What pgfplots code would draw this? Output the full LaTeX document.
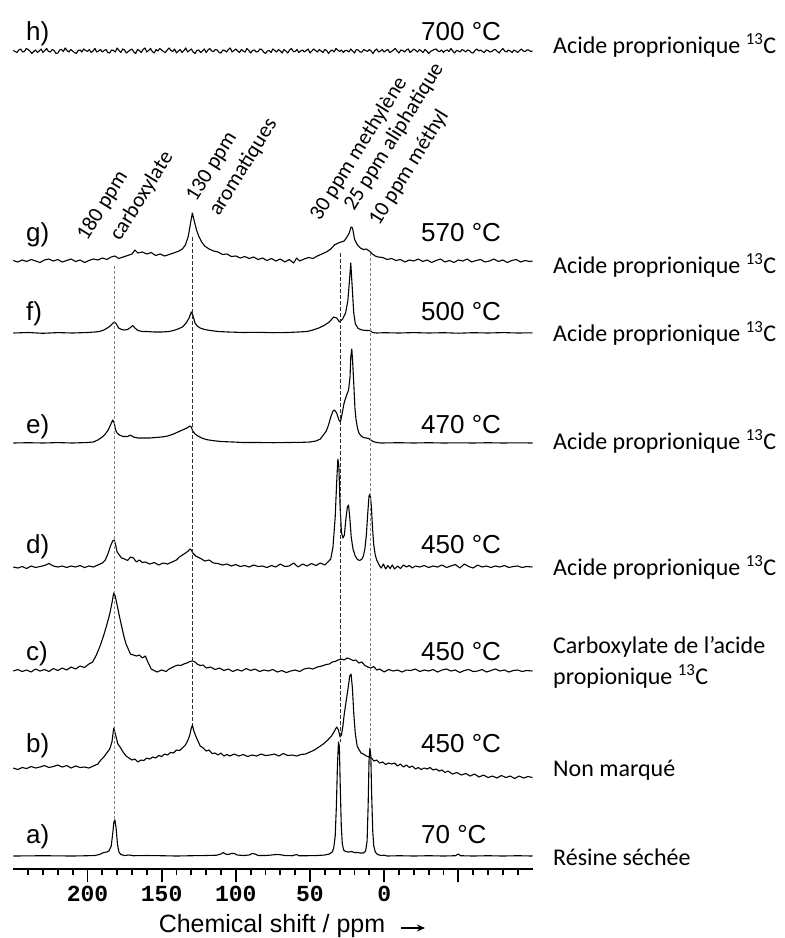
\documentclass[border=0pt]{standalone}
\usepackage{fontspec}
\setmainfont{Liberation Sans}
\newfontfamily\calfont{Carlito}
\newfontfamily\monofont{Liberation Mono}
\usepackage{pgfplots}
\pgfplotsset{compat=1.18}
\usetikzlibrary{arrows.meta}

\tikzset{
  spec/.style={black, line width=1.1bp, line join=round, mark=none},
  panel/.style={anchor=base west, inner sep=0pt, font=\fontsize{26bp}{30bp}\selectfont},
  side/.style={anchor=west, inner sep=0pt, align=left, font=\calfont\fontsize{24bp}{31bp}\selectfont},
  peak/.style={anchor=base west, inner sep=0pt, rotate=58, font=\calfont\fontsize{21.5bp}{26bp}\selectfont},
}

\begin{document}
\begin{tikzpicture}[x=1bp,y=1bp]
\useasboundingbox (0,0) rectangle (785,-938);
\begin{axis}[
  at={(13.3bp,-869bp)}, anchor=south west,
  scale only axis, width=519.2bp, height=869bp,
  xmin=-100, xmax=250, x dir=reverse,
  ymin=-869, ymax=0,
  clip=false,
  axis x line=bottom, axis y line=none,
  x axis line style={line width=2.6bp, -},
  xtick={200,150,100,50,0,-50},
  xticklabels={200,150,100,50,0,{}},
  minor xtick={-90,-80,...,240},
  tick align=outside,
  major tick length=13bp, minor tick length=6bp,
  every tick/.style={black, line width=1.8bp},
  /pgf/number format/assume math mode=true,
  xticklabel style={font=\monofont\bfseries\fontsize{23bp}{23bp}\selectfont, yshift=-1bp},
]
% h) 700 C
\addplot[spec, y filter/.expression={y-51}] coordinates {
(250,0.5)(248.75,-0.5)(247.5,-1.5)(246.25,1)(245,2)(243.75,-1)(242.5,-0.5)(241.25,2.5)(240,1.5)(238.75,0)(237.5,-2.5)(236.25,-0.5)(235,1)(233.75,-1.5)(232.5,0)(231.25,2)(230,-1.5)(228.75,0.5)(227.5,2.5)(226.25,-0.5)(225,-1)(223.75,1.5)(222.5,0.5)(221.25,-2.5)(220,-2)(218.75,1)(217.5,1.5)(216.25,-0.5)(215,3)(213.75,0.5)(212.5,-1)(211.25,1.5)(210,0)(208.75,-1.5)(207.5,-2.5)(206.25,0.5)(205,1)(203.75,-1)(202.5,2)(201.25,0.5)(200,-0.5)(198.75,1.5)(197.5,-1.5)(196.25,0)(195,2.5)(193.75,-1)(192.5,0)(191.25,1.5)(190,-1)(188.75,0.5)(187.5,1.5)(186.25,-1.5)(185,-2)(183.75,1)(182.5,0.5)(181.25,-1)(180,3)(178.75,0.5)(177.5,-1.5)(176.25,2)(175,1)(173.75,-2)(172.5,-0.5)(171.25,1)(170,2)(168.75,-1)(167.5,-2.5)(166.25,1.5)(165,0.5)(163.75,-1.5)(162.5,1.5)(161.25,3)(160,-1)(158.75,0.5)(157.5,2.5)(156.25,-0.5)(155,-2)(153.75,1.5)(152.5,0)(151.25,2.5)(150,1)(148.75,-0.5)(147.5,-1.5)(146.25,1)(145,3)(143.75,0.5)(142.5,-0.5)(141.25,2)(140,-2)(138.75,0)(137.5,1.5)(136.25,-1.5)(135,0.5)(133.75,3)(132.5,-1)(131.25,0.5)(130,2)(128.75,-1)(127.5,-2.5)(126.25,0.5)(125,1)(123.75,-1.5)(122.5,0)(121.25,2)(120,-1.5)(118.75,1)(117.5,2.5)(116.25,0)(115,-0.5)(113.75,1.5)(112.5,1)(111.25,-1.5)(110,-2)(108.75,1)(107.5,0.5)(106.25,-1)(105,1.5)(103.75,3)(102.5,-1)(101.25,0.5)(100,2)(98.75,0)(97.5,-1.5)(96.25,1.5)(95,0)(93.75,-1)(92.5,2.5)(91.25,0.5)(90,-2)(88.75,0.5)(87.5,1)(86.25,-1)(85,-0.5)(83.75,2)(82.5,1.5)(81.25,-1)(80,-2.5)(78.75,0)(77.5,0.5)(76.25,-1.5)(75,2)(73.75,0.5)(72.5,-1)(71.25,1.5)(70,0)(68.75,-2)(67.5,1.5)(66.25,0)(65,-2)(63.75,1)(62.5,2.5)(61.25,-0.5)(60,-0.5)(58.75,1.5)(57.5,-1.5)(56.25,0)(55,1)(53.75,-1)(52.5,0.5)(51.25,2)(50,-2)(48.75,0)(47.5,2)(46.25,0.5)(45,-1)(43.75,1.5)(42.5,0)(41.25,-1.5)(40,1.5)(38.75,0.5)(37.5,-2.5)(36.25,0)(35,1)(33.75,-1)(32.5,2.5)(31.25,1)(30,-0.5)(28.75,1)(27.5,-1.5)(26.25,0.5)(25,0.5)(23.75,-1)(22.5,2)(21.25,0)(20,-2)(18.75,1.5)(17.5,1)(16.25,-1)(15,-1)(13.75,1.5)(12.5,0.5)(11.25,-0.5)(10,1.5)(8.75,0)(7.5,-2.5)(6.25,0.5)(5,2)(3.75,-1)(2.5,0)(1.25,1.5)(0,-1)(-1.25,0.5)(-2.5,1.5)(-3.75,-1.5)(-5,-0.5)(-6.25,1)(-7.5,2.5)(-8.75,0)(-10,-2)(-11.25,1)(-12.5,0.5)(-13.75,-1)(-15,1)(-16.25,2)(-17.5,-1.5)(-18.75,0)(-20,2)(-21.25,0.5)(-22.5,-1)(-23.75,1.5)(-25,0)(-26.25,-1.5)(-27.5,1.5)(-28.75,0)(-30,-2.5)(-31.25,-0.5)(-32.5,0.5)(-33.75,1.5)(-35,2)(-36.25,0)(-37.5,-0.5)(-38.75,1)(-40,-1.5)(-41.25,0.5)(-42.5,1)(-43.75,-0.5)(-45,2.5)(-46.25,0)(-47.5,-2)(-48.75,0.5)(-50,0)(-51.25,-1)(-52.5,1.5)(-53.75,0.5)(-55,-1)(-56.25,1)(-57.5,0.5)(-58.75,-1.5)(-60,-2)(-61.25,0.5)(-62.5,2)(-63.75,0)(-65,1)(-66.25,-0.5)(-67.5,-1.5)(-68.75,1)(-70,0.5)(-71.25,-1)(-72.5,-0.5)(-73.75,1)(-75,1.5)(-76.25,-0.5)(-77.5,-2)(-78.75,0.5)(-80,2.5)(-81.25,0)(-82.5,-1)(-83.75,1)(-85,0)(-86.25,-1.5)(-87.5,1)(-88.75,0)(-90,-1.5)(-91.25,0.5)(-92.5,2)(-93.75,0)(-95,-0.5)(-96.25,1)(-97.5,1)(-98.75,-0.5)(-100,0)
};
% g) 570 C
\addplot[spec, y filter/.expression={y-261}] coordinates {
(250,0.5)(247,-1)(244,1)(241,-0.5)(238,1.5)(235,0)(232,-1.5)(229,1)(226,2)(223,0)(220,1.5)(217,-1)(214,0.5)(211,2)(208,-0.5)(205,1)(202,-1.5)(199,0.5)(196,2)(193,1)(190,3)(187,1.5)(184,4)(181.5,5)(179,2.5)(176,4)(173,5.5)(170,7)(168,11)(166,8)(163,9)(160,7)(157,8.5)(154,5.5)(151,7)(148,5)(145,6.5)(142,8)(139,9.5)(136,12)(134,16)(132,25)(130.5,38)(129.3,48)(128,40)(126.5,31)(125,25)(123,19)(121,15)(118,12)(115,10)(112,9)(109,6.5)(106,7)(103,4.5)(100,5)(97,3)(94,4.5)(91,2.5)(88,4)(85,1.5)(82,3)(79,0.5)(76,2.5)(73,0)(70,2)(67,-1)(64,1.5)(61,-2)(59,3)(57,0)(54,2)(51,3.5)(48,2.5)(45,5)(42,7)(39,9)(36,12)(33.5,16)(31,18)(29,19)(27,20)(25.5,23)(23.5,28)(22.3,34)(21.3,33)(20,22)(18,16)(16,13)(14,11.5)(12,12)(10,10)(8,7)(6,5)(4,4)(1,3.5)(-2,1.5)(-5,2.5)(-8,0.5)(-11,1.5)(-14,-1)(-17,1)(-20,0)(-23,2)(-26,-0.5)(-29,1)(-32,-1.5)(-35,0.5)(-38,2)(-41,-1)(-44,0.5)(-47,-1.5)(-50,1)(-53,0)(-56,2)(-59,-1)(-62,0.5)(-65,1.5)(-68,-1)(-71,0)(-74,2)(-77,-0.5)(-80,1)(-83,-1.5)(-86,0.5)(-89,1.5)(-92,-1)(-95,0.5)(-98,-0.5)(-100,0)
};
% f) 500 C
\addplot[spec, y filter/.expression={y-333}] coordinates {
(250,0)(240,0.5)(230,-0.3)(220,0.4)(210,0)(200,0.5)(195,1)(192,1.5)(189,3)(186,5.5)(184,8)(182,11)(180.5,9)(179,5)(177,3.5)(175,3)(173,3.5)(171,5.5)(169.5,7.5)(168,5)(166,2.5)(163,1.5)(160,1.5)(155,1)(150,1)(145,1.5)(142,2.5)(139,4)(136,6)(133.5,10)(131.5,15)(130,21)(129,18)(127.5,10)(126,7)(124,5)(121,3.5)(117,2.5)(112,1.5)(105,1)(95,0.5)(85,0.7)(75,0.3)(65,0.5)(58,1)(52,1.5)(48,3)(44,5)(40,8)(37,11)(34,16)(32,15)(30,11)(28,14)(26,20)(24.5,32)(23.5,50)(22.5,70)(21.5,45)(20.5,20)(19.4,9)(17.5,4.5)(15,3)(12,2.5)(10,2.5)(9,2)(8,0.5)(5,0)(0,0.3)(-10,0)(-20,0.4)(-30,0)(-40,0.3)(-50,-0.2)(-60,0.3)(-70,0)(-80,0.4)(-90,0)(-100,0.2)
};
% e) 470 C
\addplot[spec, y filter/.expression={y-443}] coordinates {
(250,0)(240,0.3)(230,0)(220,0.4)(210,0)(200,0.5)(196,1)(193,3)(190,6)(188,9)(186,13)(184.5,18)(183,23)(182,20)(181,13)(180,10)(178.5,8)(176,6.5)(173,6.5)(171,8)(169,6)(166,5)(162,5)(158,5)(154,5.5)(150,6)(146,7)(142,9)(139,11)(136,13)(133,15)(131,17)(130,16)(129,12)(127.5,9)(125.5,7)(123,5)(120,3.5)(116,2.5)(110,1.5)(102,1)(95,0.5)(85,0.5)(75,0.3)(65,0.5)(55,0.7)(50,1)(46,2)(43,4)(41,8)(39,12)(37.5,18)(36,26)(34.5,32)(33.5,33)(32,30)(30.5,23)(29.5,21)(28.5,28)(27,40)(25.5,47)(24,53)(23,66)(22.5,86)(21.8,94)(21.2,80)(20.5,60)(19.7,35)(19,24)(18,15)(17,10)(15.5,7)(14,5.5)(12,5)(10.5,4.5)(9,3)(7.5,1.5)(5,0.5)(2,0)(-10,0.3)(-20,0)(-30,0.3)(-40,0)(-50,0.2)(-60,0)(-70,0.3)(-80,0)(-90,0.2)(-100,0)
};
% d) 450 C
\addplot[spec, y filter/.expression={y-567}] coordinates {
(250,0)(247,-1)(244,0.5)(241,-1.5)(238,1)(235,-0.5)(232,0.5)(229,1.5)(226,3.5)(223,1)(220,0)(217,1)(214,-0.5)(211,1)(208,0)(205,1.5)(202,-0.5)(199,1)(196,0)(193,2)(190,4)(188,7)(186,14)(184.5,21)(183,26)(182,27)(181,22)(180,15)(178.5,12)(177,9)(175,8)(173,6.5)(171,10)(169,9)(167,5)(165,7)(163,4.5)(161,5)(158,3)(155,4.5)(152,2)(149,4)(146,3)(143,5)(140,7)(138,10)(136,12)(134,14)(132,16)(131,18)(130,17)(129,14)(127,11)(125,9.5)(123,8)(121,6)(118,7)(115,4)(112,3.5)(109,2)(106,3)(103,1)(100,2.5)(97,0.5)(94,1.5)(91,0)(88,2)(85,0.5)(82,1)(79,-0.5)(76,1.5)(73,0)(70,3)(67,0.5)(64,1)(61,4)(58,0)(55,3)(52,1)(49,3.5)(46,1.5)(43,4)(40,2)(38,5)(36,8)(34.5,20)(33,50)(32,85)(31.2,108)(30.5,100)(29.7,60)(28.8,35)(27.8,29)(26.8,32)(25.8,48)(24.8,60)(24,62)(23.2,50)(22.2,30)(21,18)(19.5,11)(18,7.5)(16.5,6.5)(15,8)(14,11)(13,18)(12,32)(11,55)(10.2,71)(9.4,73)(8.6,60)(7.8,38)(7,22)(6,12)(5,7)(4,4)(3,1)(2,-1)(0.5,3)(-1,-2)(-2.5,1.5)(-4,-1.5)(-5.5,2)(-7,-2)(-9,1)(-11,-1.5)(-13,2)(-15,0)(-17,1.5)(-19,-1)(-21,1)(-24,0)(-27,1.5)(-30,-0.5)(-33,1)(-36,0)(-39,2)(-42,-0.5)(-45,1)(-48,2.5)(-51,-1)(-54,3)(-57,0.5)(-60,-1)(-63,2)(-66,0)(-69,1)(-72,-0.5)(-75,1)(-78,0)(-81,1.5)(-84,-0.5)(-87,0.5)(-90,1)(-93,-0.5)(-96,0.5)(-100,0)
};
% c) 450 C
\addplot[spec, y filter/.expression={y-671}] coordinates {
(250,0)(247,1.5)(244,-0.5)(241,1)(238,-1)(235,2)(232,0)(229,1.5)(226,-0.5)(223,2.5)(220,0.5)(217,3)(214,1)(211,4)(208,2)(205,5)(202,3.5)(199,7)(196.5,9)(194,16)(191.5,25)(189,36)(187,46)(185,57)(183.5,68)(182.3,78)(181.3,75)(180,66)(178.5,55)(177,45)(175.5,35)(174,27)(172.5,22)(171,17)(169,16)(167,15)(165,16)(163,13)(161,15)(159,8)(157,2)(155,0.5)(153,-1)(150,1)(147,-0.5)(145,2)(143,3.5)(141,5)(139,6)(137,5.5)(135,7)(133,8)(131,9.5)(129,10)(127.5,9)(126,7)(124,5.5)(122,6)(120,3)(117,4)(114,1.5)(111,3)(108,0.5)(105,2)(102,-0.5)(99,1.5)(96,0)(93,2.5)(90,0.5)(87,2)(84,-0.5)(81,1)(78,0)(75,1.5)(72,-1)(69,0.5)(66,-1.5)(63,0)(60,1)(57,-0.5)(54,2)(51,3)(48,2)(45,4)(42,5)(39,6.5)(37,7)(35,9)(33,9.5)(31,11)(29,12)(27,11)(25,13)(23,12)(21,10.5)(19,11)(17,8)(15,9)(13,5.5)(11,4)(9,3)(7,4.5)(5,1)(3,2)(0,-1)(-3,1.5)(-6,0)(-9,1)(-12,-1)(-15,1)(-18,0.5)(-21,2)(-24,-0.5)(-27,1)(-30,0)(-33,1.5)(-36,-1)(-39,1)(-42,2)(-45,0)(-48,1)(-51,-1.5)(-54,0.5)(-57,1.5)(-60,-0.5)(-63,0)(-66,1.5)(-69,-1)(-72,0.5)(-75,2)(-78,0)(-81,1)(-84,-1)(-87,0.5)(-90,1)(-93,-0.5)(-96,0.5)(-100,0)
};
% b) 450 C
\addplot[spec, y filter/.expression={y-768}] coordinates {
(250,0)(247,-1.5)(244,0.5)(241,-0.5)(238,1.5)(235,0)(232,1)(229,2.5)(226,0.5)(223,1.5)(220,3)(217,1)(214,2.5)(211,0)(208,2)(205,0.5)(202,1)(199,0)(196,2)(193,4)(191,8)(189,11)(187,15)(185,19)(183.5,26)(182.3,40)(181,33)(179.5,24)(178,21)(176,16)(174,12)(172,10)(170,8)(168,9)(166,6)(164,8)(162,7.5)(160,10)(158,9)(156,11)(154,10)(152,12.5)(150,11.5)(148,14)(146,13)(144,15.5)(142,15)(140,18)(138,17.5)(136,20)(134,23)(132.5,27)(131,33)(130,40)(129.2,43)(128.3,37)(127,32)(125.5,27)(124,22)(122,20)(120,17)(118,18)(116,14.5)(114,15)(112,13)(110,15)(108,12)(106,13.5)(104,12)(101,14)(98,12)(95,13.5)(92,11.5)(89,13)(86,12)(83,14)(80,12.5)(77,13)(74,14)(71,12)(68,14.5)(65,12.5)(62,13)(59,12)(56,13.5)(53,14)(50,16)(47,18)(44,21)(41,24)(38,28)(35.5,32)(33.5,37)(32,41)(30.8,38)(29.7,31)(28.8,33)(27.8,42)(26.8,55)(25.5,68)(24.3,80)(23.2,92)(22.3,94)(21.4,80)(20.5,55)(19.5,35)(18.2,22)(16.8,18)(15.5,15)(14,14)(12,12)(10,11)(8.5,10)(7,7)(5,8)(3,5)(1,6)(-1,3.5)(-3,5)(-5,4)(-7,5)(-9,2)(-11,4)(-13,1)(-15,3)(-17,0.5)(-19,2)(-21,-1)(-23,0.5)(-25,-1.5)(-27,0)(-29,-1)(-31,0.5)(-33,-2)(-35,-1)(-37,-3)(-39,-2)(-41,-4.5)(-43,-3)(-46,-6)(-49,-4.5)(-52,-7)(-55,-5.5)(-58,-8)(-61,-6)(-64,-9)(-67,-7)(-70,-9.5)(-73,-8)(-76,-10)(-79,-7.5)(-82,-9.5)(-85,-8)(-88,-10.5)(-91,-8)(-94,-10)(-97,-8.5)(-100,-9.5)
};
% a) 70 C
\addplot[spec, y filter/.expression={y-856}] coordinates {
(250,0)(230,0.3)(210,0)(200,0.3)(195,0.5)(192,1.5)(189,3.5)(187,4)(185.5,5)(184,10)(183,22)(182.2,34)(181.5,36)(180.7,28)(179.8,12)(178.8,4)(177.5,1.5)(175,0.5)(172,1)(169,0.3)(160,0.5)(150,0.3)(140,0)(130,0.3)(120,0.5)(113,0.8)(110,2)(108.5,3.5)(107,2)(105,1.5)(103,2.5)(101,2.5)(99,1)(95,0.5)(91,1)(89,2.5)(87,2)(85,0.5)(80,0.5)(76,1)(73,1.5)(70,1.3)(67,0.5)(62,0.3)(59,1.5)(57.5,0.3)(52,0.3)(45,0.5)(40,1)(37,2)(35,4)(34,8)(33,20)(32.2,50)(31.5,90)(30.8,114)(30.2,110)(29.6,70)(28.9,30)(28.2,12)(27.3,6)(26,4.5)(24,4)(22,4.5)(20,3.5)(18,3.5)(16,3)(14,3)(12.5,5)(11.5,15)(10.8,50)(10.2,95)(9.6,108)(9,100)(8.4,60)(7.7,25)(7,10)(6,4)(4.5,1.5)(2,0.5)(0,0.8)(-2,0)(-10,0.3)(-20,0)(-30,0.3)(-40,0)(-48,0.3)(-50,2)(-51.5,0.3)(-60,0)(-70,0.3)(-80,0)(-90,0.3)(-100,0)
};
% reference lines
\addplot[gray, line width=1bp, dash pattern=on 3bp off 2bp] coordinates {(181.6,-266) (181.6,-820)};
\addplot[black!80, line width=1bp, dash pattern=on 4bp off 2bp] coordinates {(129.1,-237) (129.1,-725)};
\addplot[black!80, line width=1bp, dash pattern=on 4bp off 2bp] coordinates {(29.5,-253) (29.5,-742)};
\addplot[gray, line width=1bp, dash pattern=on 3bp off 2bp] coordinates {(9.2,-253) (9.2,-748)};
\end{axis}

% x label
\node[anchor=center, inner sep=0pt, font=\fontsize{25bp}{25bp}\selectfont] at (272,-926) {Chemical shift / ppm};
\draw[line width=1.5bp, -{Stealth[length=8bp,width=7bp]}] (401,-928) -- (425,-928);

% panel letters and temperatures
\foreach \l/\t/\b in {h/700/40, g/570/241, f/500/320, e/470/433, d/450/553, c/450/660, b/450/752, a/70/843}{
  \node[panel] at (26,-\b) {\l)};
  \node[panel] at (421,-\b) {\t{} °C};
}

% sample descriptions
\node[side] at (553,-45) {Acide proprionique \textsuperscript{13}C};
\node[side] at (553,-265) {Acide proprionique \textsuperscript{13}C};
\node[side] at (553,-333) {Acide proprionique \textsuperscript{13}C};
\node[side] at (553,-441) {Acide proprionique \textsuperscript{13}C};
\node[side] at (553,-567) {Acide proprionique \textsuperscript{13}C};
\node[side] at (553,-662) {Carboxylate de l’acide\\propionique \textsuperscript{13}C};
\node[side] at (553,-770) {Non marqué};
\node[side] at (553,-857) {Résine séchée};

% peak assignments
\node[peak] at (87,-242) {180 ppm};
\node[peak] at (120,-242) {carboxylate};
\node[peak] at (196,-203) {130 ppm};
\node[peak] at (219,-217) {aromatiques};
\node[peak] at (320,-222) {30 ppm methylène};
\node[peak] at (354,-212) {25 ppm aliphatique};
\node[peak] at (379,-227) {10 ppm méthyl};
\end{tikzpicture}
\end{document}
